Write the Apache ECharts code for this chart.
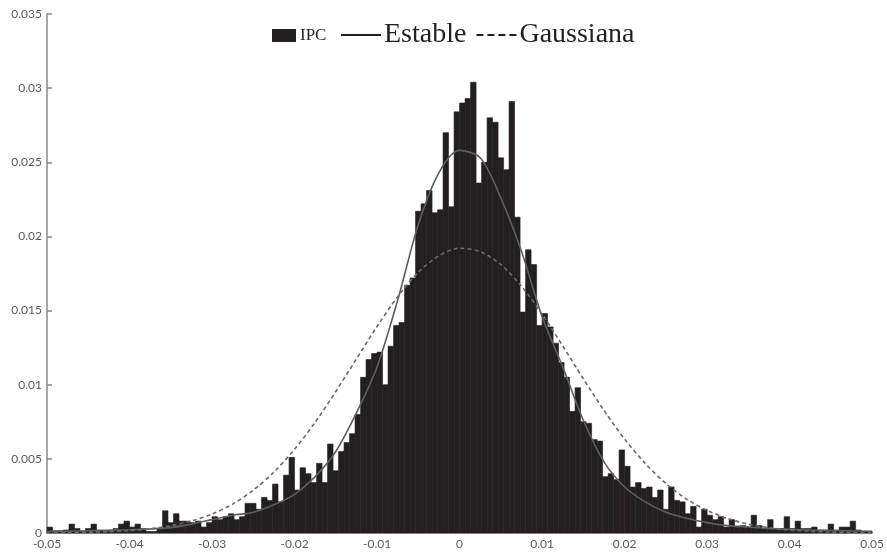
<!DOCTYPE html>
<html>
<head>
<meta charset="utf-8">
<script src="https://cdn.jsdelivr.net/npm/echarts@6/dist/echarts.min.js"></script>
<style>
  html, body { margin: 0; padding: 0; background: #fff; }
  #chart { width: 887px; height: 554px; }
</style>
</head>
<body>
<div id="chart"></div>
<script>
// Histogram range and bin heights (relative frequency)
const binMin = -0.05;
const binMax = 0.05;
const ipcFreq = [
  0.0004, 0.00015, 0.00015, 0.0002, 0.0006, 0.0003, 0.0001, 0.0003, 0.0006, 0.0002,
  0.0002, 0.0002, 0.0003, 0.0006, 0.0008, 0.0004, 0.0006, 0.0003, 0.0001, 0.0001,
  0.0003, 0.0015, 0.0007, 0.0013, 0.0008, 0.0008, 0.0007, 0.0008, 0.0004, 0.0007,
  0.0011, 0.0009, 0.0011, 0.0013, 0.0009, 0.0011, 0.0020, 0.0020, 0.0016, 0.0024,
  0.0022, 0.0033, 0.0021, 0.0039, 0.0051, 0.0029, 0.0044, 0.0040, 0.0034, 0.0047,
  0.0034, 0.0060, 0.0042, 0.0055, 0.0061, 0.0067, 0.0080, 0.0105, 0.0117, 0.0121,
  0.0122, 0.0100, 0.0126, 0.0140, 0.0142, 0.0167, 0.0172, 0.0217, 0.0222, 0.0231,
  0.0216, 0.0218, 0.0270, 0.0220, 0.0284, 0.0290, 0.0293, 0.0304, 0.0236, 0.0250,
  0.0280, 0.0277, 0.0253, 0.0245, 0.0291, 0.0213, 0.0149, 0.0191, 0.0181, 0.0140,
  0.0148, 0.0139, 0.0128, 0.0115, 0.0105, 0.0082, 0.0098, 0.0075, 0.0074, 0.0063,
  0.0062, 0.0038, 0.0040, 0.0036, 0.0056, 0.0045, 0.0031, 0.0034, 0.0030, 0.0031,
  0.0024, 0.0029, 0.0016, 0.0031, 0.0022, 0.0021, 0.0013, 0.0018, 0.0004, 0.0016,
  0.0012, 0.0009, 0.0011, 0.0004, 0.0009, 0.0004, 0.0005, 0.0004, 0.0012, 0.0005,
  0.0003, 0.0009, 0.0003, 0.0003, 0.0011, 0.0003, 0.0008, 0.0003, 0.0003, 0.0004,
  0.0002, 0.0002, 0.0006, 0.0002, 0.0004, 0.0004, 0.0008, 0.0002, 0.0001, 0.0001
];

// Fitted densities, sampled every 0.0025
const curveX = [
  -0.05, -0.0475, -0.045, -0.0425, -0.04, -0.0375, -0.035, -0.0325, -0.03, -0.0275,
  -0.025, -0.0225, -0.02, -0.0175, -0.015, -0.0125, -0.01, -0.0075, -0.005, -0.0025,
  0, 0.0025, 0.005, 0.0075, 0.01, 0.0125, 0.015, 0.0175, 0.02, 0.0225,
  0.025, 0.0275, 0.03, 0.0325, 0.035, 0.0375, 0.04, 0.0425, 0.045, 0.0475, 0.05
];
const estable = [
  0.0001, 0.00012, 0.00015, 0.00018, 0.00022, 0.00028, 0.00036, 0.0006, 0.0009, 0.0012,
  0.0014, 0.0019, 0.0026, 0.0038, 0.0055, 0.0081, 0.0112, 0.0157, 0.0208, 0.0243,
  0.0258, 0.0253, 0.0226, 0.0190, 0.0146, 0.0112, 0.0076, 0.0048, 0.0031, 0.0021,
  0.0014, 0.0010, 0.0007, 0.0005, 0.0004, 0.0003, 0.00025, 0.0002, 0.00017, 0.00014, 0.00012
];
const gaussiana = [
  0.0, 0.00002, 0.00005, 0.00009, 0.00016, 0.00029, 0.00049, 0.00081, 0.00128, 0.00195,
  0.00289, 0.00411, 0.00565, 0.00747, 0.00954, 0.01174, 0.01393, 0.01594, 0.01758, 0.0187,
  0.0192, 0.01897, 0.0181, 0.01664, 0.01476, 0.01262, 0.0104, 0.00827, 0.00634, 0.00469,
  0.00334, 0.00229, 0.00152, 0.00097, 0.0006, 0.00036, 0.0002, 0.00011, 0.00006, 0.00003, 0.00002
];

const binWidth = (binMax - binMin) / ipcFreq.length;
const histData = ipcFreq.map((v, i) => [binMin + i * binWidth, binMin + (i + 1) * binWidth, v]);

const fmt = v => {
  if (Math.abs(v) < 1e-12) return '0';
  return String(parseFloat(v.toFixed(3)));
};

const chart = echarts.init(document.getElementById('chart'), null, { renderer: 'canvas' });

const axisColor = '#8a8a8a';
const ink = '#231f20';
const labelStyle = { color: '#5a5a5a', fontSize: 12, fontFamily: 'Lato, "Open Sans", sans-serif' };
const serif = '"Liberation Serif", "DejaVu Serif", serif';
// legend keys: a solid stroke and a four-dash stroke
const solidKey = 'path://M0,0H40V2H0Z';
const dashKey = 'path://M0,0H7V2H0Z M11,0H18V2H11Z M22,0H29V2H22Z M33,0H40V2H33Z';

chart.setOption({
  animation: false,
  backgroundColor: '#ffffff',
  grid: { left: 47, right: 12, top: 14, bottom: 21, containLabel: false },
  legend: [
    {
      data: [{ name: 'IPC', icon: 'rect' }],
      left: 272, top: 27, padding: 0,
      itemWidth: 24, itemHeight: 13, itemStyle: { color: ink },
      textStyle: { fontFamily: serif, fontSize: 17, color: ink, padding: [0, 0, 0, -1] }
    },
    {
      data: [
        { name: 'Estable', icon: solidKey, itemStyle: { color: ink } },
        { name: 'Gaussiana', icon: dashKey, itemStyle: { color: ink } }
      ],
      left: 341, top: 21, padding: 0,
      itemWidth: 40, itemHeight: 2, itemGap: 10,
      textStyle: { fontFamily: serif, fontSize: 28, color: ink, padding: [0, 0, 0, -2] }
    }
  ],
  xAxis: {
    type: 'value',
    min: binMin, max: binMax, interval: 0.01,
    axisLine: { show: true, onZero: false, lineStyle: { color: axisColor, width: 1.5 } },
    axisTick: { show: false },
    splitLine: { show: false },
    axisLabel: Object.assign({ formatter: fmt, margin: 5 }, labelStyle)
  },
  yAxis: {
    type: 'value',
    min: 0, max: 0.035, interval: 0.005,
    axisLine: { show: true, onZero: false, lineStyle: { color: axisColor, width: 1.5 } },
    axisTick: { show: true, inside: true, length: 5, lineStyle: { color: axisColor, width: 1.5 } },
    splitLine: { show: false },
    axisLabel: Object.assign({ formatter: fmt, margin: 5 }, labelStyle)
  },
  series: [
    {
      name: 'IPC',
      type: 'custom',
      itemStyle: { color: ink },
      encode: { x: [0, 1], y: 2 },
      data: histData,
      renderItem: function (params, api) {
        const top = api.coord([api.value(0), api.value(2)]);
        const base = api.coord([api.value(1), 0]);
        return {
          type: 'rect',
          shape: { x: top[0], y: top[1], width: base[0] - top[0], height: base[1] - top[1] },
          style: { fill: ink, stroke: ink, lineWidth: 0.6 }
        };
      },
      z: 1
    },
    {
      name: 'Estable',
      type: 'line',
      smooth: 0.3,
      showSymbol: false,
      symbol: 'none',
      data: curveX.map((x, i) => [x, estable[i]]),
      lineStyle: { color: '#5e5e5e', width: 1.6 },
      itemStyle: { color: ink },
      z: 3
    },
    {
      name: 'Gaussiana',
      type: 'line',
      smooth: 0.3,
      showSymbol: false,
      symbol: 'none',
      data: curveX.map((x, i) => [x, gaussiana[i]]),
      lineStyle: { color: '#6a6a6a', width: 1.6, type: [4, 3] },
      itemStyle: { color: ink },
      z: 3
    }
  ]
});
</script>
</body>
</html>
